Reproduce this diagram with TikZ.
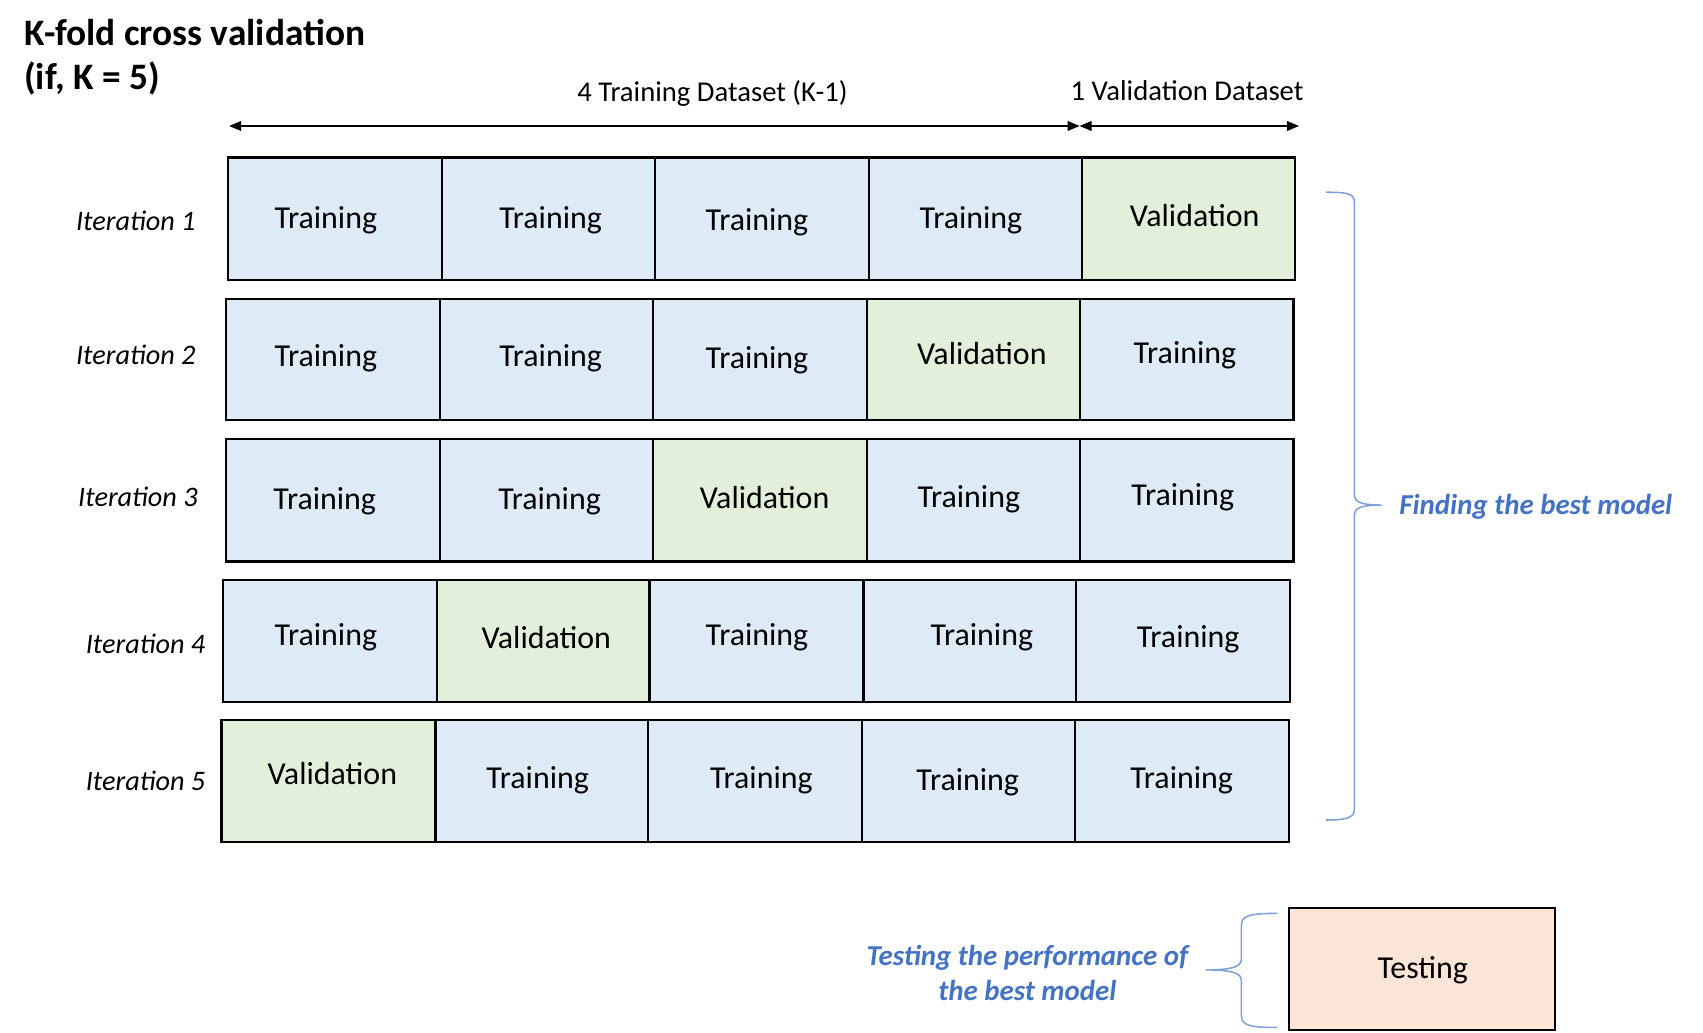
\documentclass[tikz,border=0pt]{standalone}
\usepackage{fontspec}
\setmainfont{Carlito}
\usetikzlibrary{arrows.meta}
\definecolor{trainblue}{HTML}{DEEBF7}
\definecolor{validgreen}{HTML}{E2EFDA}
\definecolor{testorange}{HTML}{FBE5D6}
\definecolor{noteblue}{HTML}{4472C4}
\definecolor{bracecol}{HTML}{7F9FD9}
\newcommand{\kbox}[5]{\draw[cellbox,fill=#5] (#1,#2) rectangle (#3,#4);}
\begin{document}
\begin{tikzpicture}[x=0.5pt,y=-0.5pt,
  cellbox/.style={draw=black,line width=1pt},
  celltext/.style={anchor=base,inner sep=0pt,font=\fontsize{14.7}{17}\selectfont},
  itlabel/.style={anchor=base,inner sep=0pt,font=\fontsize{13}{15}\selectfont\itshape},
  headtext/.style={anchor=base,inner sep=0pt,font=\fontsize{13.2}{15}\selectfont},
  titletext/.style={anchor=base west,inner sep=0pt,font=\fontsize{17.2}{20}\selectfont\bfseries},
  notetext/.style={anchor=base,inner sep=0pt,text=noteblue,font=\fontsize{13.3}{15}\selectfont\bfseries\itshape},
  dimarrow/.style={line width=0.5pt,{Triangle[length=5.5pt,width=4.5pt]}-{Triangle[length=5.5pt,width=4.5pt]}},
  bracepath/.style={draw=bracecol,line width=0.7pt}
]
\useasboundingbox (0,0) rectangle (1568,951);

% title
\node[titletext] (title1) at (22,42) {K-fold cross validation};
\node[titletext] (title2) at (22,82) {(if, K = 5)};

% header
\node[headtext] (htrain) at (656,93.5) {4 Training Dataset (K-1)};
\node[headtext] (hval) at (1093,92.5) {1 Validation Dataset};
\coordinate (aL) at (211,116);
\coordinate (aM1) at (994,116);
\coordinate (aM2) at (994,116);
\coordinate (aR) at (1196,116);
\draw[dimarrow] (aL) -- (aM1);
\draw[dimarrow] (aM2) -- (aR);

% row 1
\kbox{210}{145}{407}{258}{trainblue}
\kbox{407}{145}{603}{258}{trainblue}
\kbox{603}{145}{800}{258}{trainblue}
\kbox{800}{145}{996}{258}{trainblue}
\kbox{996}{145}{1192}{258}{validgreen}
\node[celltext] (t11) at (300,210) {Training};
\node[celltext] (t12) at (507,210) {Training};
\node[celltext] (t13) at (697,212) {Training};
\node[celltext] (t14) at (894,210) {Training};
\node[celltext] (t15) at (1100,209) {Validation};

% row 2
\kbox{208}{275}{405}{387}{trainblue}
\kbox{405}{275}{601}{387}{trainblue}
\kbox{601}{275}{798}{387}{trainblue}
\kbox{798}{275}{994}{387}{validgreen}
\kbox{994}{275}{1191}{387}{trainblue}
\node[celltext] (t21) at (300,337) {Training};
\node[celltext] (t22) at (507,337) {Training};
\node[celltext] (t23) at (697,339) {Training};
\node[celltext] (t24) at (904,336) {Validation};
\node[celltext] (t25) at (1091,335) {Training};

% row 3
\kbox{208}{404}{405}{517}{trainblue}
\kbox{405}{404}{601}{517}{trainblue}
\kbox{601}{404}{798}{517}{validgreen}
\kbox{798}{404}{994}{517}{trainblue}
\kbox{994}{404}{1191}{517}{trainblue}
\node[celltext] (t31) at (299,469) {Training};
\node[celltext] (t32) at (506,469) {Training};
\node[celltext] (t33) at (704,468) {Validation};
\node[celltext] (t34) at (892,467) {Training};
\node[celltext] (t35) at (1089,465) {Training};

% row 4
\kbox{205}{534}{402}{646}{trainblue}
\kbox{402}{534}{598}{646}{validgreen}
\kbox{598}{534}{795}{646}{trainblue}
\kbox{795}{534}{991}{646}{trainblue}
\kbox{991}{534}{1188}{646}{trainblue}
\node[celltext] (t41) at (300,594) {Training};
\node[celltext] (t42) at (503,597) {Validation};
\node[celltext] (t43) at (697,594) {Training};
\node[celltext] (t44) at (904,594) {Training};
\node[celltext] (t45) at (1094,596) {Training};

% row 5
\kbox{204}{663}{401}{775}{validgreen}
\kbox{401}{663}{597}{775}{trainblue}
\kbox{597}{663}{794}{775}{trainblue}
\kbox{794}{663}{990}{775}{trainblue}
\kbox{990}{663}{1187}{775}{trainblue}
\node[celltext] (t51) at (306,722) {Validation};
\node[celltext] (t52) at (495,726) {Training};
\node[celltext] (t53) at (701,726) {Training};
\node[celltext] (t54) at (891,728) {Training};
\node[celltext] (t55) at (1088,726) {Training};

% iteration labels
\node[itlabel] (it1) at (125,212.5) {Iteration 1};
\node[itlabel] (it2) at (125,335.5) {Iteration 2};
\node[itlabel] (it3) at (127,466.5) {Iteration 3};
\node[itlabel] (it4) at (134,601.5) {Iteration 4};
\node[itlabel] (it5) at (134,727.5) {Iteration 5};

% right brace
\draw[bracepath] (1221,177) .. controls (1240,177) and (1247,178) .. (1247,186)
  -- (1247,455) .. controls (1247,462) and (1252,465) .. (1272,465)
  .. controls (1252,465) and (1247,468) .. (1247,475)
  -- (1247,745) .. controls (1247,753) and (1240,755) .. (1221,755);
\node[notetext,anchor=base west] (best) at (1288,474) {Finding the best model};

% testing
\draw[cellbox,fill=testorange] (1187,836) rectangle (1432,948);
\node[celltext] (test) at (1310,901) {Testing};
\draw[bracepath] (1176,841) .. controls (1150,841) and (1143,843) .. (1143,852)
  -- (1143,883) .. controls (1143,890) and (1135,893) .. (1110,893)
  .. controls (1135,893) and (1143,896) .. (1143,903)
  -- (1143,935) .. controls (1143,944) and (1150,946) .. (1176,946);
\node[notetext] (perf1) at (946,889) {Testing the performance of};
\node[notetext] (perf2) at (946,921) {the best model};
\end{tikzpicture}
\end{document}
